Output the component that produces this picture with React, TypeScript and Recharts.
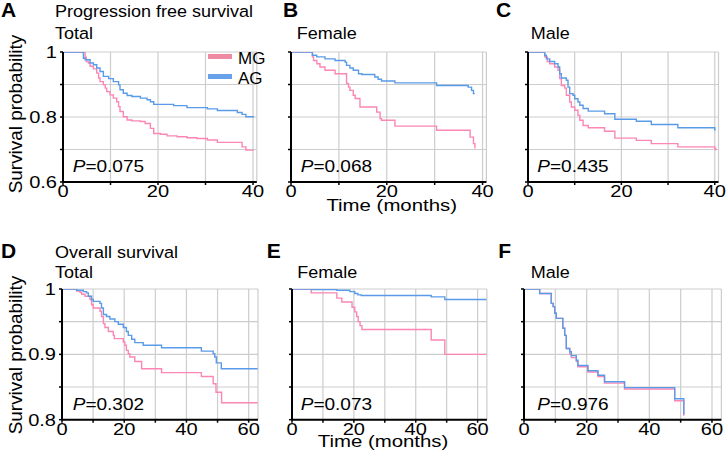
import React from 'react';
import { LineChart, Line, XAxis, YAxis, CartesianGrid, Legend } from 'recharts';

const FONT = '"Liberation Sans", Arial, Helvetica, sans-serif';
const PINK = '#fc86b4';
const BLUE = '#5a9be9';
const SWATCH: Record<string, string> = { MG: '#ef8aa3', AG: '#68a2ea' };
const LEGEND_ORDER = ['MG', 'AG'];

// axis ticks
const pfsXTicks = [0, 10, 20, 30, 40];
const pfsXLabels = [0, 20, 40];
const pfsYTicks = [0.6, 0.7, 0.8, 0.9, 1];
const pfsYLabels = [0.6, 0.8, 1];
const osXTicks = [0, 10, 20, 30, 40, 50, 60];
const osXLabels = [0, 20, 40, 60];
const osYTicks = [0.8, 0.85, 0.9, 0.95, 1];
const osYLabels = [0.8, 0.9, 1];

// A: progression free survival, total
const pfsTotalMgT = [0, 4.65, 4.9, 5.35, 5.7, 6.4, 7.1, 7.5, 7.8, 8.5, 8.9, 9.2, 9.9, 10.6, 11.3, 11.7, 12.0, 12.7, 13.5, 14.5, 16.3, 17.3, 18.4, 19.1, 20.5, 21.9, 24.0, 26.1, 28.2, 30.4, 32.5, 37.7, 38.5, 40.2];
const pfsTotalMgS = [1, 0.984, 0.971, 0.966, 0.956, 0.948, 0.935, 0.92, 0.909, 0.899, 0.889, 0.878, 0.868, 0.858, 0.847, 0.832, 0.817, 0.801, 0.791, 0.788, 0.786, 0.78, 0.765, 0.749, 0.747, 0.742, 0.739, 0.736, 0.734, 0.729, 0.722, 0.708, 0.698, 0.698];
const pfsTotalAgT = [0, 4.3, 4.65, 5.7, 6.4, 7.1, 7.8, 8.5, 9.6, 10.6, 11.7, 12.0, 12.7, 13.5, 14.5, 16.3, 17.7, 18.4, 19.1, 23.3, 26.1, 30.4, 32.5, 36.7, 37.7, 38.5, 40.2];
const pfsTotalAgS = [1, 0.981, 0.976, 0.966, 0.961, 0.951, 0.94, 0.925, 0.918, 0.909, 0.899, 0.884, 0.873, 0.866, 0.863, 0.858, 0.853, 0.847, 0.839, 0.835, 0.829, 0.825, 0.82, 0.814, 0.808, 0.801, 0.801];

// B: progression free survival, female
const pfsFemMgT = [0, 4.5, 4.7, 5.4, 6.05, 7.1, 9.2, 11.6, 12.0, 12.3, 13.0, 13.4, 14.4, 17.9, 18.6, 18.9, 21.7, 30.4, 37.4, 38.1, 38.4];
const pfsFemMgS = [1, 0.985, 0.974, 0.964, 0.954, 0.944, 0.933, 0.903, 0.892, 0.882, 0.867, 0.857, 0.831, 0.815, 0.795, 0.79, 0.772, 0.759, 0.738, 0.718, 0.703];
const pfsFemAgT = [0, 4.45, 5.36, 7.1, 9.2, 11.3, 11.6, 12.3, 13.0, 14.1, 14.8, 17.5, 18.2, 18.9, 21.7, 30.4, 37.0, 37.7, 38.1, 38.4];
const pfsFemAgS = [1, 0.99, 0.985, 0.979, 0.974, 0.969, 0.959, 0.951, 0.944, 0.933, 0.931, 0.923, 0.916, 0.911, 0.905, 0.897, 0.892, 0.882, 0.872, 0.872];

// C: progression free survival, male
const pfsMaleMgT = [0, 3.57, 4.14, 4.64, 5.71, 6.43, 6.79, 7.14, 7.86, 8.21, 8.93, 9.29, 10.0, 10.7, 11.1, 11.8, 12.9, 16.4, 18.6, 23.2, 26.4, 32.1, 40.0, 40.2];
const pfsMaleMgS = [1, 0.985, 0.971, 0.964, 0.954, 0.944, 0.918, 0.897, 0.889, 0.867, 0.846, 0.831, 0.821, 0.805, 0.79, 0.774, 0.767, 0.756, 0.735, 0.728, 0.718, 0.708, 0.703, 0.697];
const pfsMaleAgT = [0, 3.57, 3.93, 4.64, 5.71, 6.43, 6.79, 7.14, 8.21, 8.57, 8.93, 9.64, 10.0, 10.7, 11.1, 11.8, 12.9, 16.4, 18.6, 23.2, 26.4, 32.1, 40.0, 40.2];
const pfsMaleAgS = [1, 0.99, 0.979, 0.971, 0.964, 0.954, 0.933, 0.92, 0.913, 0.892, 0.872, 0.867, 0.856, 0.846, 0.836, 0.826, 0.818, 0.81, 0.793, 0.787, 0.777, 0.767, 0.761, 0.761];

// D: overall survival, total
const osTotalMgT = [0, 4.7, 5.8, 6.3, 7.4, 9.0, 9.5, 10.05, 12.2, 12.7, 13.3, 13.8, 14.9, 16.5, 16.8, 19.7, 20.2, 20.7, 21.3, 21.8, 23.4, 25.6, 32.0, 44.8, 48.6, 49.5, 51.3, 62.9];
const osTotalMgS = [1, 0.997, 0.995, 0.992, 0.989, 0.984, 0.976, 0.971, 0.966, 0.958, 0.947, 0.941, 0.935, 0.929, 0.924, 0.919, 0.914, 0.906, 0.901, 0.896, 0.889, 0.878, 0.872, 0.866, 0.855, 0.842, 0.826, 0.826];
const osTotalAgT = [0, 4.7, 6.84, 7.9, 8.45, 9.5, 10.05, 12.2, 12.7, 13.3, 14.3, 15.4, 17.0, 18.1, 19.7, 20.7, 21.3, 22.4, 23.4, 26.1, 32.0, 44.8, 48.6, 49.1, 49.6, 51.2, 62.9];
const osTotalAgS = [1, 0.998, 0.996, 0.994, 0.989, 0.984, 0.981, 0.978, 0.971, 0.961, 0.958, 0.954, 0.95, 0.946, 0.941, 0.935, 0.929, 0.923, 0.918, 0.914, 0.91, 0.905, 0.901, 0.896, 0.887, 0.878, 0.878];

// E: overall survival, female
const osFemMgT = [0, 6.2, 14.5, 16.1, 19.4, 20.3, 20.9, 21.4, 22.0, 22.6, 45.0, 49.4, 62.9];
const osFemMgS = [1, 0.994, 0.986, 0.98, 0.972, 0.965, 0.958, 0.95, 0.944, 0.938, 0.922, 0.9, 0.9];
const osFemAgT = [0, 6.3, 14.5, 18.7, 20.3, 21.3, 22.4, 45.0, 49.4, 62.9];
const osFemAgS = [1, 0.999, 0.998, 0.996, 0.993, 0.991, 0.99, 0.988, 0.984, 0.984];

// F: overall survival, male
const osMaleMgT = [0, 5.0, 8.7, 9.3, 9.8, 10.3, 12.4, 13.0, 13.5, 14.6, 15.1, 16.7, 17.2, 20.4, 23.6, 25.7, 32.1, 48.1, 51.0];
const osMaleMgS = [1, 0.993, 0.978, 0.973, 0.963, 0.955, 0.94, 0.929, 0.909, 0.9, 0.895, 0.889, 0.881, 0.873, 0.866, 0.856, 0.847, 0.829, 0.806];
const osMaleAgT = [0, 5.0, 8.7, 9.3, 9.8, 10.3, 12.4, 13.0, 13.5, 14.6, 15.1, 16.7, 17.2, 20.4, 23.6, 25.7, 32.1, 48.1, 51.0];
const osMaleAgS = [1, 0.993, 0.978, 0.973, 0.963, 0.955, 0.94, 0.929, 0.909, 0.904, 0.898, 0.891, 0.883, 0.875, 0.868, 0.858, 0.849, 0.832, 0.808];

type Pt = { t: number; s: number };
const km = (t: number[], s: number[]): Pt[] => t.map((v, i) => ({ t: v, s: s[i] }));
const has = (arr: number[], v: number) => arr.some((a) => Math.abs(a - v) < 1e-6);

const XTick = (props: any) => {
  const { x, y, payload, labels } = props;
  const v = payload.value;
  if (!has(labels, v)) return <g />;
  return (
    <text transform={`translate(${x},${y}) scale(1.18,1)`} textAnchor="middle" dy="0.71em"
      fontSize={17} fontFamily={FONT} fill="#000">{String(v)}</text>
  );
};

const YTick = (props: any) => {
  const { x, y, payload, labels } = props;
  const v = payload.value;
  if (!labels || !has(labels, v)) return <g />;
  return (
    <text transform={`translate(${x},${y}) scale(1.18,1)`} textAnchor="end" dy="0.355em"
      fontSize={17} fontFamily={FONT} fill="#000">{String(v)}</text>
  );
};

const LegendBox = (props: any) => {
  const items = [...(props.payload || [])].sort(
    (a: any, b: any) => LEGEND_ORDER.indexOf(a.value) - LEGEND_ORDER.indexOf(b.value));
  return (
    <svg width={70} height={42}>
      {items.map((it: any, i: number) => (
        <g key={it.value}>
          <rect x={0} y={8 + i * 20} width={24} height={5} fill={SWATCH[it.value] || it.color} />
          <text x={30} y={18 + i * 19.5} fontSize={17} fontFamily={FONT} fill="#000">{it.value}</text>
        </g>
      ))}
    </svg>
  );
};

interface PanelProps {
  left: number; top: number; w: number; h: number;
  xMax: number; xTicks: number[]; xLabels: number[];
  yMin: number; yTicks: number[]; yLabels?: number[];
  mg: Pt[]; ag: Pt[]; legend?: boolean;
}

const YW = 45, TOPPAD = 14, XH = 30, RPAD = 16;
const axisStyle = { stroke: '#000', strokeWidth: 2 };
const tickStyle = { stroke: '#000', strokeWidth: 1.5 };

const Panel = (p: PanelProps) => (
  <div style={{ position: 'absolute', left: p.left - YW, top: p.top - TOPPAD }}>
    <LineChart width={YW + p.w + RPAD} height={TOPPAD + p.h + XH}
      margin={{ top: TOPPAD, right: RPAD, bottom: 0, left: 0 }}>
      <CartesianGrid stroke="#cdcdcd" strokeWidth={1.2} />
      <XAxis dataKey="t" type="number" domain={[0, p.xMax]} ticks={p.xTicks} interval={0}
        allowDataOverflow height={XH} tickSize={3} tickMargin={0}
        axisLine={axisStyle} tickLine={tickStyle}
        tick={(tp: any) => <XTick {...tp} labels={p.xLabels} />} />
      <YAxis type="number" domain={[p.yMin, 1]} ticks={p.yTicks} interval={0}
        allowDataOverflow width={YW} tickSize={3} tickMargin={3}
        axisLine={axisStyle} tickLine={tickStyle}
        tick={(tp: any) => <YTick {...tp} labels={p.yLabels} />} />
      <Line data={p.mg} dataKey="s" name="MG" type="stepAfter" stroke={PINK} strokeWidth={1.4}
        dot={false} activeDot={false} isAnimationActive={false} />
      <Line data={p.ag} dataKey="s" name="AG" type="stepAfter" stroke={BLUE} strokeWidth={1.4}
        dot={false} activeDot={false} isAnimationActive={false} />
      {p.legend && (
        <Legend layout="vertical" align="center" verticalAlign="middle"
          wrapperStyle={{ left: 190, top: 46 - (p.top - TOPPAD), width: 70, height: 42 }} content={LegendBox} />
      )}
    </LineChart>
  </div>
);

const T = ({ x, y, size = 17, sx = 1, bold, children, anchor = 'start' }: any) => (
  <text transform={`translate(${x},${y}) scale(${sx},1)`} fontSize={size} fontFamily={FONT}
    fontWeight={bold ? 'bold' : 'normal'} textAnchor={anchor} fill="#000">{children}</text>
);

const PVal = ({ x, y, v }: any) => (
  <T x={x} y={y} sx={1.12}><tspan fontStyle="italic">P</tspan>={v}</T>
);

export default function App() {
  return (
    <div style={{ position: 'absolute', left: 0, top: 0, width: 726, height: 461, background: '#fff', fontFamily: FONT }}>
      <Panel left={63} top={51.7} w={193.8} h={130} xMax={40.8} xTicks={pfsXTicks} xLabels={pfsXLabels}
        yMin={0.6} yTicks={pfsYTicks} yLabels={pfsYLabels}
        mg={km(pfsTotalMgT, pfsTotalMgS)} ag={km(pfsTotalAgT, pfsTotalAgS)} legend />
      <Panel left={290.7} top={51.7} w={195.4} h={130} xMax={40.8} xTicks={pfsXTicks} xLabels={pfsXLabels}
        yMin={0.6} yTicks={pfsYTicks}
        mg={km(pfsFemMgT, pfsFemMgS)} ag={km(pfsFemAgT, pfsFemAgS)} />
      <Panel left={528.3} top={51.7} w={190.5} h={130} xMax={40.8} xTicks={pfsXTicks} xLabels={pfsXLabels}
        yMin={0.6} yTicks={pfsYTicks}
        mg={km(pfsMaleMgT, pfsMaleMgS)} ag={km(pfsMaleAgT, pfsMaleAgS)} />
      <Panel left={61.7} top={289.3} w={196} h={130.7} xMax={63} xTicks={osXTicks} xLabels={osXLabels}
        yMin={0.8} yTicks={osYTicks} yLabels={osYLabels}
        mg={km(osTotalMgT, osTotalMgS)} ag={km(osTotalAgT, osTotalAgS)} />
      <Panel left={291.7} top={289.3} w={194.9} h={130.7} xMax={63} xTicks={osXTicks} xLabels={osXLabels}
        yMin={0.8} yTicks={osYTicks}
        mg={km(osFemMgT, osFemMgS)} ag={km(osFemAgT, osFemAgS)} />
      <Panel left={524.3} top={289.3} w={197.4} h={130.7} xMax={63} xTicks={osXTicks} xLabels={osXLabels}
        yMin={0.8} yTicks={osYTicks}
        mg={km(osMaleMgT, osMaleMgS)} ag={km(osMaleAgT, osMaleAgS)} />

      <svg width={726} height={461} style={{ position: 'absolute', left: 0, top: 0, pointerEvents: 'none' }}>
        <T x={1} y={16.7} size={20} sx={1.05} bold>A</T>
        <T x={55} y={16.7} sx={1.06}>Progression free survival</T>
        <T x={55} y={39} sx={1.06}>Total</T>
        <T x={283} y={16.7} size={20} sx={1.05} bold>B</T>
        <T x={296.7} y={39} sx={1.06}>Female</T>
        <T x={496} y={16.7} size={20} sx={1.05} bold>C</T>
        <T x={530.7} y={39} sx={1.06}>Male</T>

        <T x={1} y={258.3} size={20} sx={1.05} bold>D</T>
        <T x={55} y={258.3} sx={1.06}>Overall survival</T>
        <T x={55} y={278.3} sx={1.06}>Total</T>
        <T x={266.7} y={258.3} size={20} sx={1.05} bold>E</T>
        <T x={297.3} y={278.3} sx={1.06}>Female</T>
        <T x={498.3} y={258.3} size={20} sx={1.05} bold>F</T>
        <T x={530.7} y={278.3} sx={1.06}>Male</T>

        <PVal x={72.7} y={171.7} v="0.075" />
        <PVal x={300.7} y={171.7} v="0.068" />
        <PVal x={537.3} y={171.7} v="0.435" />
        <PVal x={72.7} y={410} v="0.302" />
        <PVal x={300.7} y={410} v="0.073" />
        <PVal x={537.3} y={410} v="0.976" />

        <text transform="translate(21.7,114) rotate(-90) scale(1.05,1)" textAnchor="middle"
          fontSize={18} fontFamily={FONT} fill="#000">Survival probability</text>
        <text transform="translate(21.7,355) rotate(-90) scale(1.05,1)" textAnchor="middle"
          fontSize={18} fontFamily={FONT} fill="#000">Survival probability</text>
        <T x={391.7} y={211} sx={1.2} anchor="middle">Time (months)</T>
        <T x={383} y={446.7} sx={1.2} anchor="middle">Time (months)</T>
      </svg>
    </div>
  );
}
